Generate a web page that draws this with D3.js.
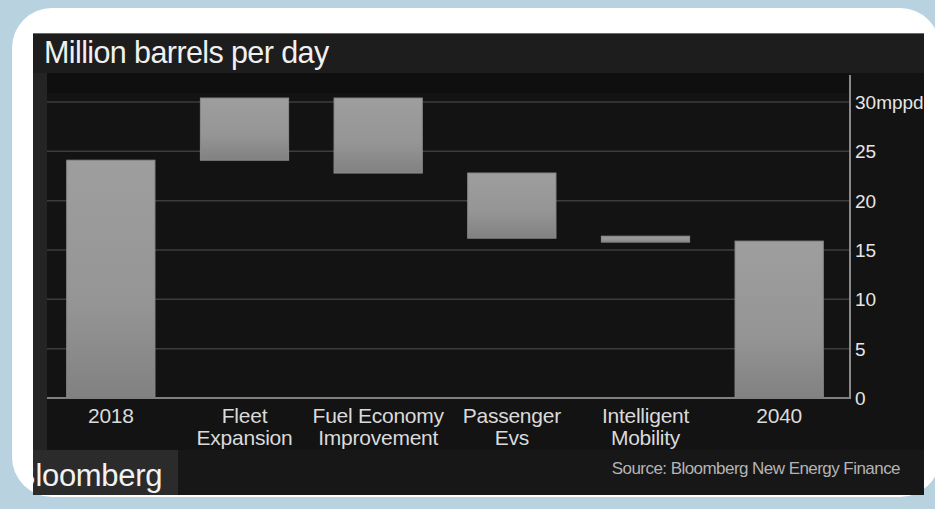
<!DOCTYPE html>
<html>
<head>
<meta charset="utf-8">
<script src="https://cdn.jsdelivr.net/npm/d3@7/dist/d3.min.js"></script>
<style>
  html, body { margin: 0; padding: 0; background: #b9d2e0; }
  svg { display: block; }
  text { font-family: "Liberation Sans", Arial, Helvetica, sans-serif; }
</style>
</head>
<body>
<svg id="chart" width="935" height="509"></svg>
<script>
// ---- data ----
const categories = ["2018", "Fleet Expansion", "Fuel Economy Improvement", "Passenger Evs", "Intelligent Mobility", "2040"];
const labelLines = [["2018"], ["Fleet", "Expansion"], ["Fuel Economy", "Improvement"], ["Passenger", "Evs"], ["Intelligent", "Mobility"], ["2040"]];
const barLow  = [0,    24.1, 22.8, 16.2, 15.8, 0];
const barHigh = [24.1, 30.4, 30.4, 22.8, 16.4, 15.9];
const yTicks = [0, 5, 10, 15, 20, 25, 30];
const titleText = "Million barrels per day";
const unitText = "mppd";
const sourceText = "Source: Bloomberg New Energy Finance";
const brandText = "Bloomberg";

const svg = d3.select("#chart");
const W = 935, H = 509;

// background + white rounded panel
svg.append("rect").attr("width", W).attr("height", H).attr("fill", "#b9d2e0");
svg.append("rect").attr("x", 12).attr("y", 8).attr("width", 928).attr("height", 489).attr("rx", 40).attr("fill", "#ffffff");

// dark image area
const img = { x0: 33, y0: 33, x1: 924, y1: 495 };
svg.append("clipPath").attr("id", "imgclip").append("rect")
  .attr("x", img.x0).attr("y", img.y0).attr("width", img.x1 - img.x0).attr("height", img.y1 - img.y0);
const g = svg.append("g").attr("clip-path", "url(#imgclip)");

g.append("rect").attr("x", img.x0).attr("y", img.y0).attr("width", img.x1 - img.x0).attr("height", img.y1 - img.y0).attr("fill", "#161616");
g.append("line").attr("x1", img.x0).attr("x2", img.x1).attr("y1", img.y0 + 0.5).attr("y2", img.y0 + 0.5).attr("stroke", "#6a6a6a").attr("stroke-width", 1);
// title strip
g.append("rect").attr("x", img.x0).attr("y", img.y0 + 1).attr("width", img.x1 - img.x0).attr("height", 40).attr("fill", "#1d1d1d");
// left band
g.append("rect").attr("x", img.x0).attr("y", 73).attr("width", 14).attr("height", 377).attr("fill", "#242424");
// plot area
g.append("rect").attr("x", 47).attr("y", 73).attr("width", img.x1 - 47).attr("height", 377).attr("fill", "#131313");
g.append("rect").attr("x", 47).attr("y", 73).attr("width", 803).attr("height", 20).attr("fill", "#0f0f0f");
// bottom strip
g.append("rect").attr("x", img.x0).attr("y", 450).attr("width", img.x1 - img.x0).attr("height", 45).attr("fill", "#171717");
g.append("rect").attr("x", img.x0).attr("y", 450).attr("width", 145).attr("height", 45).attr("fill", "#2b2b2b");

// scales
const y = d3.scaleLinear().domain([0, 30]).range([398, 102]);
const x = d3.scaleBand().domain(categories).range([44, 846]).paddingInner(0.34).paddingOuter(0.17);

// gridlines
g.append("g").selectAll("line").data(yTicks.filter(t => t > 0)).join("line")
  .attr("x1", 47).attr("x2", 850)
  .attr("y1", d => y(d)).attr("y2", d => y(d))
  .attr("stroke", "#3d3d3d").attr("stroke-width", 1.5);

// gradient
const defs = svg.append("defs");
const grad = defs.append("linearGradient").attr("id", "barGrad").attr("x1", 0).attr("y1", 0).attr("x2", 0).attr("y2", 1);
grad.append("stop").attr("offset", "0%").attr("stop-color", "#9e9e9e");
grad.append("stop").attr("offset", "60%").attr("stop-color", "#959595");
grad.append("stop").attr("offset", "100%").attr("stop-color", "#818181");

// bars
g.append("g").selectAll("rect").data(categories).join("rect")
  .attr("x", d => x(d))
  .attr("width", x.bandwidth())
  .attr("y", (d, i) => y(barHigh[i]))
  .attr("height", (d, i) => y(barLow[i]) - y(barHigh[i]))
  .attr("fill", "url(#barGrad)")
  .attr("stroke", "#8c8c8c").attr("stroke-width", 1);

// baseline and right axis line
g.append("line").attr("x1", 47).attr("x2", 851).attr("y1", y(0)).attr("y2", y(0)).attr("stroke", "#808080").attr("stroke-width", 2);
g.append("line").attr("x1", 850).attr("x2", 850).attr("y1", 75).attr("y2", y(0) + 1).attr("stroke", "#8a8a8a").attr("stroke-width", 2);

// y axis (right)
const yAxis = d3.axisRight(y).tickValues(yTicks).tickSize(0).tickPadding(0)
  .tickFormat(d => d === 30 ? d + unitText : String(d));
const ya = g.append("g").attr("transform", "translate(855,0)").call(yAxis);
ya.select(".domain").remove();
ya.selectAll("text").attr("fill", "#e6e6e6").style("font-size", "19px").style("letter-spacing", "0px")
  .attr("dy", "0.35em");

// x axis labels
const xAxis = d3.axisBottom(x).tickSize(0).tickFormat(() => "");
const xa = g.append("g").attr("transform", `translate(0,${y(0)})`).call(xAxis);
xa.select(".domain").remove();
xa.selectAll(".tick").each(function(d, i) {
  const t = d3.select(this).select("text")
    .attr("y", 0).attr("dy", null)
    .attr("fill", "#dadada").attr("text-anchor", "middle")
    .style("font-size", "21px").style("letter-spacing", "-0.25px");
  t.selectAll("tspan").data(labelLines[i]).join("tspan")
    .attr("x", 0).attr("y", (l, j) => 25 + j * 22).text(l => l);
});

// title
g.append("text").attr("x", 44).attr("y", 63).text(titleText)
  .attr("fill", "#f0f0f0").style("font-size", "30.5px").style("letter-spacing", "-0.6px");

// brand
g.append("text").attr("x", 15).attr("y", 486).text(brandText)
  .attr("fill", "#f2f2f2").style("font-size", "31px").style("letter-spacing", "-0.3px");

// source
g.append("text").attr("x", 900).attr("y", 474).attr("text-anchor", "end").text(sourceText)
  .attr("fill", "#b4b4b4").style("font-size", "17px").style("letter-spacing", "-0.55px");
</script>
</body>
</html>
